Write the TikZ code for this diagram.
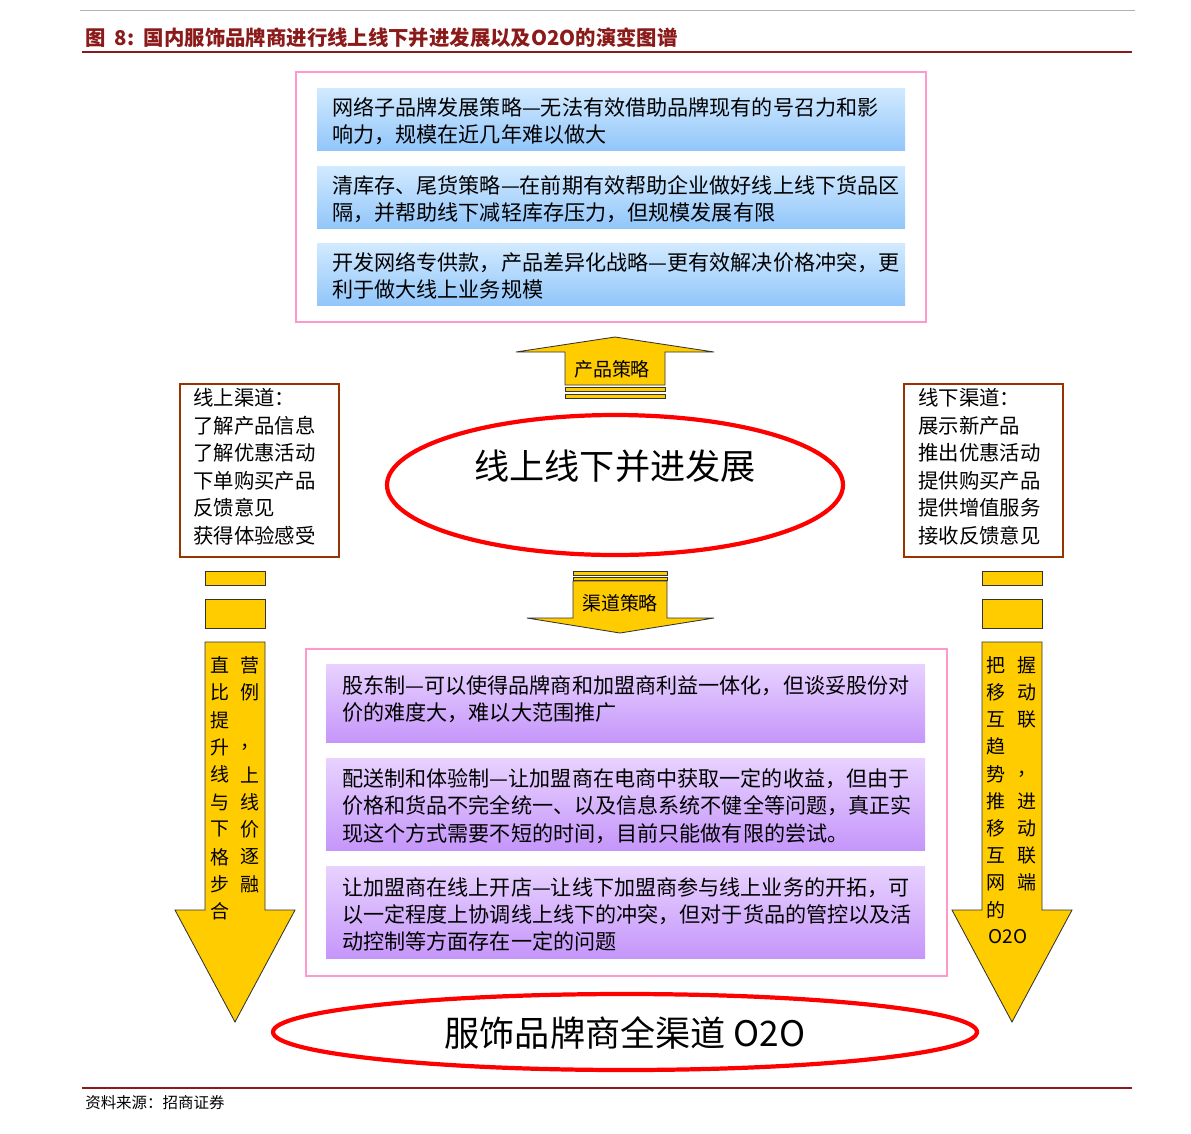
\documentclass[tikz,border=0pt]{standalone}
\usepackage{fontspec}
\setmainfont{Noto Sans CJK SC}
\usetikzlibrary{shapes.geometric}
\definecolor{titlered}{HTML}{8B1A1A}
\definecolor{boxpink}{HTML}{FF99CC}
\definecolor{arrowgold}{HTML}{FFCC00}
\definecolor{framebrown}{HTML}{993300}
\definecolor{bluetop}{HTML}{D2EAFF}
\definecolor{bluebot}{HTML}{92C6FA}
\definecolor{violettop}{HTML}{E8D2FF}
\definecolor{violetbot}{HTML}{C596FA}
\begin{document}
\begin{tikzpicture}[
        x=0.025cm, y=-0.025cm,
        pinkbox/.style={draw=boxpink, line width=1.2pt},
        bluebox/.style={top color=bluetop, bottom color=bluebot, draw=none},
        purplebox/.style={top color=violettop, bottom color=violetbot, draw=none},
        boxtext/.style={anchor=north west, align=left, font=\fontsize{15}{19.5}\selectfont, inner sep=0pt},
        sidebox/.style={draw=framebrown, line width=1.2pt, fill=white},
        sidetext/.style={anchor=north west, align=left, font=\fontsize{14.5}{19.6}\selectfont, inner sep=0pt},
        gold/.style={fill=arrowgold, draw=black!80, line width=0.6pt},
        coltext/.style={font=\fontsize{13.5}{14}\selectfont, inner sep=0pt},
        redring/.style={ellipse, draw=red, line width=3pt}
    ]
    \useasboundingbox (0,0) rectangle (1191,1133);
    % Header
    \draw[gray!60, line width=0.5pt] (80,10) -- (1135,10);
    \node (title) [anchor=west, text=titlered, font=\fontsize{14.5}{14.5}\selectfont\bfseries, inner sep=0pt] at (85,38) {图\ \ 8:\ \ 国内服饰品牌商进行线上线下并进发展以及O2O的演变图谱};
    \draw[titlered, line width=1.5pt] (82,52) -- (1132,52);

    % Product strategies
    \node (topframe) [pinkbox, minimum width=630*0.025cm, minimum height=250*0.025cm, anchor=north west, inner sep=0pt] at (295,71) {};
    \shade[bluebox] (317,88) rectangle (905,150);
    \node (prodA) [boxtext] at (332,97) {网络子品牌发展策略—无法有效借助品牌现有的号召力和影\\响力，规模在近几年难以做大};
    \shade[bluebox] (317,166) rectangle (905,228);
    \node (prodB) [boxtext] at (332,175) {清库存、尾货策略—在前期有效帮助企业做好线上线下货品区\\隔，并帮助线下减轻库存压力，但规模发展有限};
    \shade[bluebox] (317,243) rectangle (905,305);
    \node (prodC) [boxtext] at (332,252) {开发网络专供款，产品差异化战略—更有效解决价格冲突，更\\利于做大线上业务规模};

    % Up arrow
    \draw[gold] (565,385) -- (565,352) -- (516,352) -- (615,337) -- (714,352) -- (665,352) -- (665,385) -- cycle;
    \draw[gold] (565,387) rectangle (665,391);
    \draw[gold] (565,394) rectangle (665,398);
    \node (prodlabel) [font=\fontsize{13.5}{14}\selectfont] at (612,369) {产品策略};

    % Central goal
    \node (midgoal) [redring, minimum width=456*0.025cm, minimum height=140*0.025cm] at (615,485) {};
    \node (midtext) [font=\fontsize{25}{25}\selectfont] at (615,466) {线上线下并进发展};

    % Side boxes
    \node (online) [sidebox, minimum width=159*0.025cm, minimum height=173*0.025cm, anchor=north west] at (179,383) {};
    \node (onlinetext) [sidetext] at (193,388) {线上渠道：\\了解产品信息\\了解优惠活动\\下单购买产品\\反馈意见\\获得体验感受};
    \node (offline) [sidebox, minimum width=159*0.025cm, minimum height=173*0.025cm, anchor=north west] at (903,383) {};
    \node (offlinetext) [sidetext] at (918,388) {线下渠道：\\展示新产品\\推出优惠活动\\提供购买产品\\提供增值服务\\接收反馈意见};

    % Channel arrow
    \draw[gold] (573,571) rectangle (667,575);
    \draw[gold] (573,577) rectangle (667,580);
    \draw[gold] (573,581) -- (573,618) -- (527,618) -- (620,633) -- (714,618) -- (667,618) -- (667,581) -- cycle;
    \node (chanlabel) [font=\fontsize{13.5}{14}\selectfont] at (620,603) {渠道策略};

    % Side down arrows
    \foreach \cx in {235,1012} {
        \draw[gold] (\cx-30,571) rectangle (\cx+30,585);
        \draw[gold] (\cx-30,599) rectangle (\cx+30,628);
        \draw[gold] (\cx-30,642) -- (\cx-30,910) -- (\cx-60,910) -- (\cx,1022) -- (\cx+60,910) -- (\cx+30,910) -- (\cx+30,642) -- cycle;
    }
    \foreach \ch [count=\i from 0] in {直,比,提,升,线,与,下,格,步,合}
        \node (la\i) [coltext] at (220,665+27.4*\i) {\ch};
    \foreach \ch [count=\i from 0] in {营,例,{},，,上,线,价,逐,融}
        \node (lb\i) [coltext] at (250,665+27.4*\i) {\ch};
    \foreach \ch [count=\i from 0] in {把,移,互,趋,势,推,移,互,网,的}
        \node (ra\i) [coltext] at (996,665+27.2*\i) {\ch};
    \node (ra10) [coltext] at (1008,937) {O2O};
    \foreach \ch [count=\i from 0] in {握,动,联,{},，,进,动,联,端}
        \node (rb\i) [coltext] at (1027,665+27.2*\i) {\ch};

    % Channel strategies
    \node (botframe) [pinkbox, minimum width=641*0.025cm, minimum height=327*0.025cm, anchor=north west, inner sep=0pt] at (305,648) {};
    \shade[purplebox] (326,664) rectangle (925,742);
    \node (chanA) [boxtext] at (342,675) {股东制—可以使得品牌商和加盟商利益一体化，但谈妥股份对\\价的难度大，难以大范围推广};
    \shade[purplebox] (326,758) rectangle (925,850);
    \node (chanB) [boxtext] at (342,768) {配送制和体验制—让加盟商在电商中获取一定的收益，但由于\\价格和货品不完全统一、以及信息系统不健全等问题，真正实\\现这个方式需要不短的时间，目前只能做有限的尝试。};
    \shade[purplebox] (326,866) rectangle (925,958);
    \node (chanC) [boxtext] at (342,877) {让加盟商在线上开店—让线下加盟商参与线上业务的开拓，可\\以一定程度上协调线上线下的冲突，但对于货品的管控以及活\\动控制等方面存在一定的问题};

    % Final goal
    \node (endgoal) [redring, minimum width=704*0.025cm, minimum height=76*0.025cm] at (625,1032) {};
    \node (endtext) [font=\fontsize{25}{25}\selectfont] at (625,1033) {服饰品牌商全渠道 O2O};

    % Footer
    \draw[titlered, line width=1.5pt] (82,1088) -- (1132,1088);
    \node (source) [anchor=west, font=\fontsize{11}{11}\selectfont, inner sep=0pt] at (85,1103) {资料来源：招商证券};
\end{tikzpicture}
\end{document}
